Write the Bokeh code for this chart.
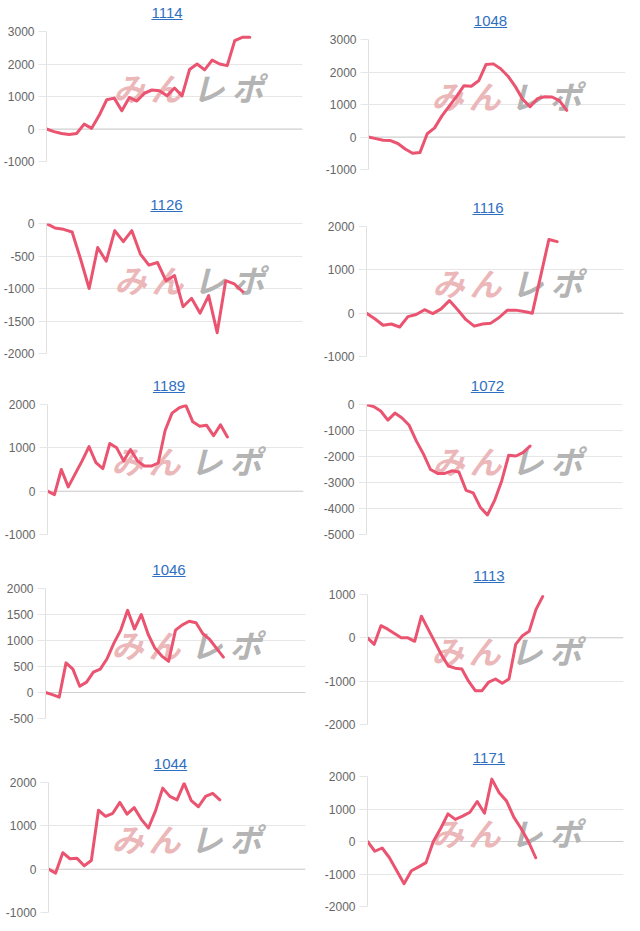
from bokeh.plotting import figure
from bokeh.models import (Range1d, FixedTicker, PrintfTickFormatter, Label, Span, Div)
from bokeh.layouts import column, row
from bokeh.embed import file_html
from bokeh.resources import INLINE

# ---------------- data ----------------
titles = ["1114", "1048", "1126", "1116", "1189", "1072", "1046", "1113", "1044", "1171"]

v1114 = [0, -80, -140, -170, -140, 150, 20, 420, 900, 950, 560, 970, 860, 1100, 1200,
         1180, 1020, 1260, 1020, 1830, 2000, 1820, 2120, 2000, 1950, 2720, 2820, 2820]
v1048 = [0, -50, -100, -110, -200, -370, -500, -480, 100, 280, 650, 950, 1250, 1580,
         1560, 1730, 2230, 2250, 2100, 1870, 1550, 1160, 930, 1180, 1240, 1230, 1120, 820]
v1126 = [0, -70, -90, -130, -550, -1000, -370, -580, -110, -280, -110, -470, -640, -600,
         -880, -800, -1280, -1150, -1380, -1110, -1680, -880, -930, -1050]
v1116 = [0, -130, -280, -250, -320, -80, -30, 80, -10, 100, 290, 80, -150, -300, -250,
         -230, -100, 70, 70, 40, 0, 850, 1700, 1650]
v1189 = [0, -80, 500, 100, 400, 700, 1030, 660, 520, 1100, 1000, 700, 960, 700, 580, 580,
         650, 1400, 1800, 1920, 1980, 1600, 1500, 1520, 1280, 1530, 1250]
v1072 = [0, -80, -250, -600, -330, -520, -800, -1400, -1900, -2500, -2650, -2650, -2550,
         -2600, -3300, -3400, -3950, -4250, -3700, -2950, -1950, -1980, -1850, -1600]
v1046 = [0, -40, -90, 570, 450, 120, 200, 390, 450, 650, 950, 1200, 1580, 1220, 1500, 1120,
         850, 700, 600, 1200, 1300, 1370, 1340, 1130, 1020, 850, 680]
v1113 = [0, -150, 280, 200, 100, 0, 0, -80, 500, 200, -100, -400, -650, -700, -720, -1000,
         -1220, -1220, -1020, -950, -1050, -950, -150, 50, 150, 650, 950]
v1044 = [0, -90, 380, 240, 250, 80, 200, 1360, 1220, 1290, 1540, 1270, 1420, 1150, 950,
         1350, 1870, 1680, 1600, 1980, 1580, 1440, 1680, 1750, 1600]
v1171 = [0, -300, -200, -500, -900, -1300, -900, -780, -650, 0, 400, 850, 680, 780, 900,
         1230, 870, 1920, 1500, 1250, 750, 400, 0, -500]

series = [v1114, v1048, v1126, v1116, v1189, v1072, v1046, v1113, v1044, v1171]

# number of x-axis categories for each chart
slots = [35, 36, 31, 32, 38, 37, 39, 39, 37, 36]

yticks = [
    [-1000, 0, 1000, 2000, 3000],
    [-1000, 0, 1000, 2000, 3000],
    [-2000, -1500, -1000, -500, 0],
    [-1000, 0, 1000, 2000],
    [-1000, 0, 1000, 2000],
    [-5000, -4000, -3000, -2000, -1000, 0],
    [-500, 0, 500, 1000, 1500, 2000],
    [-2000, -1000, 0, 1000],
    [-1000, 0, 1000, 2000],
    [-2000, -1000, 0, 1000, 2000],
]

watermark_chars = ["み", "ん", "レ", "ポ"]

# ---------------- layout / style ----------------
row_heights = [190, 180, 185, 185, 191]
frame_tops = [31, 39, 33, 36, 34, 34, 33, 39, 42, 36]
frame_lefts = [44, 48, 43, 45, 47, 45, 45, 47, 48, 47]
frame_rights = [302, 305, 302, 303, 303, 302, 305, 303, 305, 303]
FH = 130
COLW = 320
FIG_TOP = 10
wm_centers = [127, 164, 206, 245]
wm_colors = ["#ebb7b9", "#ebb7b9", "#b4b4b4", "#b4b4b4"]

LINE = "#ea5470"
BLUE = "#2f6fc2"
GRID = "#e6e6e6"
FONT = "Liberation Sans"


def make_panel(i):
    rh = row_heights[i // 2]
    top = frame_tops[i]
    L = frame_lefts[i]
    R = frame_rights[i]
    fw = R - L
    yt = yticks[i]
    div_h = top - FIG_TOP
    fig_h = rh - div_h

    # title (underlined link-style text)
    cx = L + fw / 2 - 6
    ty = top - 18.5 - 9
    html = (f'<div style="position:absolute; left:{cx - 20:.1f}px; top:{ty:.1f}px; '
            f'width:40px; text-align:center; font-family:\'{FONT}\'; font-size:15px; '
            f'line-height:18px; color:{BLUE}; text-decoration:underline; '
            f'white-space:nowrap;">{titles[i]}</div>')
    d = Div(text=html, width=COLW, height=div_h, margin=0,
            styles={"position": "relative", "overflow": "visible"})

    p = figure(width=COLW, height=fig_h, output_backend="svg", toolbar_location=None,
               x_axis_location=None,
               x_range=Range1d(0, slots[i] - 1), y_range=Range1d(min(yt), max(yt)),
               min_border_left=L, min_border_right=COLW - R,
               min_border_top=FIG_TOP, min_border_bottom=fig_h - FIG_TOP - FH)
    p.outline_line_color = None
    p.background_fill_color = "white"
    p.border_fill_color = "white"
    p.xgrid.grid_line_color = None

    ax = p.yaxis[0]
    ax.ticker = FixedTicker(ticks=yt)
    ax.formatter = PrintfTickFormatter(format="%d")
    ax.major_label_text_font = FONT
    ax.major_label_text_font_size = "12px"
    ax.major_label_text_color = "#666666"
    ax.axis_line_color = "#e0e0e0"
    ax.major_tick_line_color = GRID
    ax.major_tick_out = 8
    ax.major_tick_in = 0
    ax.minor_tick_out = 0
    ax.minor_tick_in = 0
    ax.major_label_standoff = 4
    p.ygrid.grid_line_color = GRID

    p.add_layout(Span(location=0, dimension="width", line_color="#cfcfcf",
                      line_width=1, level="underlay"))

    for ch, wx, col in zip(watermark_chars, wm_centers, wm_colors):
        p.add_layout(Label(x=wx - L, y=FH - 55.5, x_units="screen", y_units="screen",
                           text=ch, text_align="center", text_baseline="middle",
                           text_font="Noto Sans CJK JP", text_font_style="bold italic",
                           text_font_size="32px", text_color=col, level="underlay"))

    vals = series[i]
    p.line(list(range(len(vals))), vals, line_color=LINE, line_width=3,
           line_join="round", line_cap="round")
    return column(d, p, spacing=0)


panels = [make_panel(i) for i in range(10)]
layout = column(*[row(panels[2 * r], panels[2 * r + 1], spacing=0) for r in range(5)],
                spacing=0)

open("out.html", "w").write(file_html(layout, INLINE))
